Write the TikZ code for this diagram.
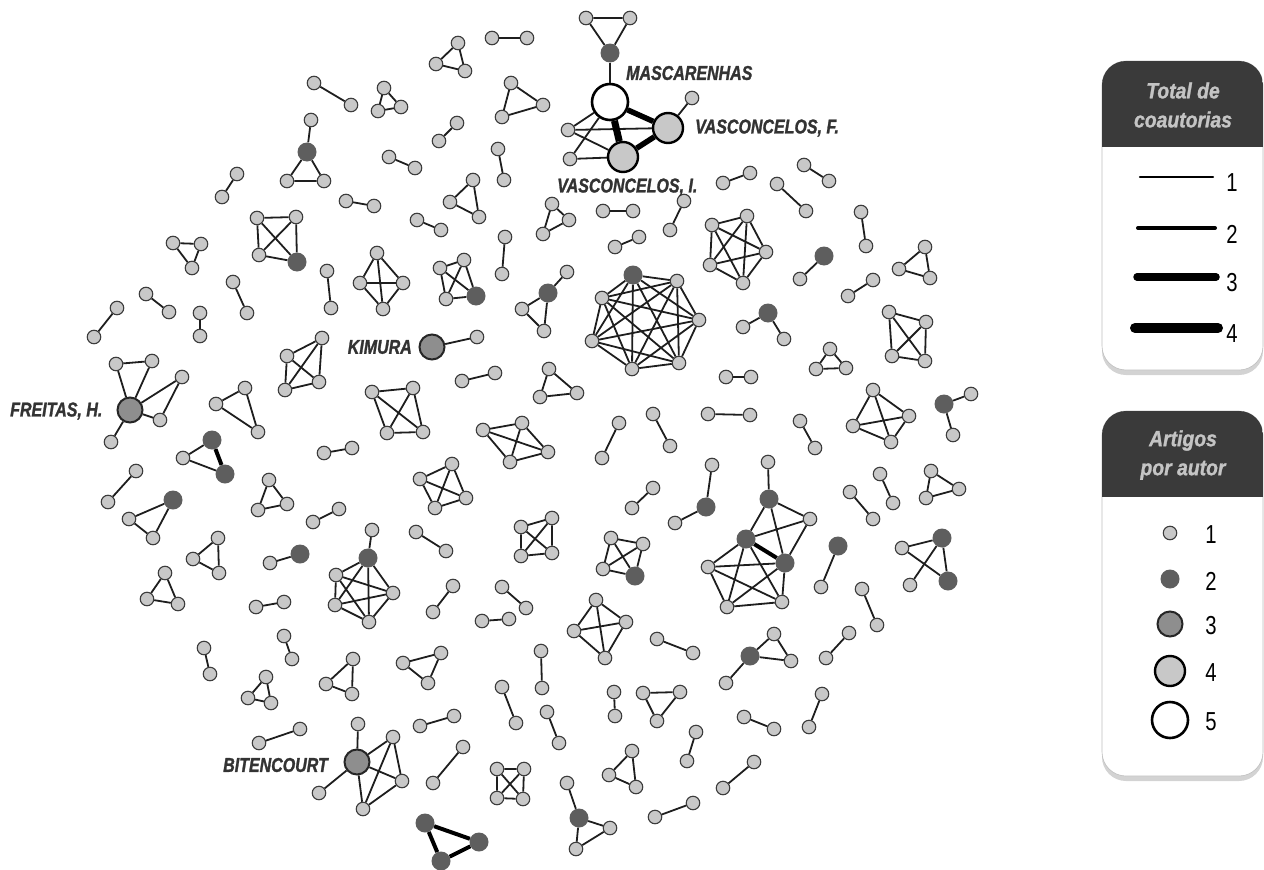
\documentclass[tikz,border=0pt]{standalone}
\usepackage{fontspec}
\newfontfamily\namefont[FakeStretch=0.8,FakeBold=1.3,UprightFont=* Bold Italic]{Liberation Sans}
\newfontfamily\headfont[FakeStretch=0.88,FakeBold=1.2,UprightFont=* Bold Italic]{Liberation Sans}
\newfontfamily\numfont[FakeStretch=0.78]{Liberation Sans}
\usetikzlibrary{shadows}

\begin{document}
\begin{tikzpicture}[x=1pt,y=-1pt,
    aut1/.style={circle,inner sep=0pt,minimum size=13.5pt,fill=nodeLight,draw=nodeLine,line width=1.1pt},
    aut2/.style={circle,inner sep=0pt,minimum size=19pt,fill=nodeDark,draw=none},
    aut3/.style={circle,inner sep=0pt,minimum size=25pt,fill=nodeMid,draw=black!85,line width=2pt},
    aut4/.style={circle,inner sep=0pt,minimum size=30pt,fill=nodeLight,draw=black,line width=2.4pt},
    aut5/.style={circle,inner sep=0pt,minimum size=36pt,fill=white,draw=black,line width=2.6pt},
    link/.style={draw=edgeColour,line width=1.8pt},
    linkii/.style={draw=black,line width=4pt},
    linkiii/.style={draw=black,line width=5.5pt},
    linkiv/.style={draw=black,line width=7pt},
    namelabel/.style={inner sep=0pt,text=labelColour,font={\namefont\fontsize{20}{24}\selectfont}},
    headtext/.style={align=center,inner sep=0pt,text=headText,font={\headfont\fontsize{22}{29}\selectfont}},
    legnum/.style={inner sep=0pt,font={\numfont\fontsize{26}{28}\selectfont}},
    legbox/.style={rounded corners=24pt,fill=white,draw=black!25,line width=0.6pt,
        drop shadow={shadow xshift=0pt,shadow yshift=-5pt,opacity=0.35}}]
    % Define colours
    \definecolor{nodeLight}{HTML}{C8C8C8}
    \definecolor{nodeLine}{HTML}{3C3C3C}
    \definecolor{nodeDark}{HTML}{5E5E5E}
    \definecolor{nodeMid}{HTML}{8E8E8E}
    \definecolor{edgeColour}{HTML}{1E1E1E}
    \definecolor{labelColour}{HTML}{333333}
    \definecolor{headColour}{HTML}{3A3A3A}
    \definecolor{headText}{HTML}{C4C4C4}

    \useasboundingbox (0,0) rectangle (1264,870);

    % Pairs of authors
    \foreach \xa/\ya/\xb/\yb [count=\i] in {314/83/351/105, 492/38/527/38, 457/123/439/141, 389/157/415/168,
        498/149/504/180, 237/174/222/197, 346/201/374/206, 417/220/441/230, 603/211/633/211, 684/201/670/230,
        639/237/615/247, 505/237/502/274, 723/183/750/173, 804/165/829/181, 777/184/806/211, 861/212/866/246,
        873/280/848/296, 327/271/331/308, 233/282/247/313, 117/308/94/337, 146/294/169/312, 200/313/200/336,
        462/381/495/373, 726/377/751/377, 708/414/750/415, 800/421/815/448, 619/423/602/458, 653/414/670/446,
        352/448/324/453, 136/471/108/502, 653/488/632/508, 339/509/313/522, 416/532/446/551, 880/474/893/503,
        850/492/873/519, 256/607/284/602, 453/586/433/612, 502/587/526/608, 482/621/509/619, 657/639/693/653,
        204/648/210/674, 284/636/292/659, 541/651/542/688, 502/687/516/723, 614/692/615/716, 454/716/420/726,
        547/712/559/743, 463/747/433/783, 300/729/259/743, 862/589/877/625, 849/633/826/658, 822/694/809/727,
        744/717/774/729, 696/732/687/761, 754/762/723/788, 655/817/693/803} {
        \node[aut1] (pa\i) at (\xa,\ya) {};
        \node[aut1] (pb\i) at (\xb,\yb) {};
        \draw[link] (pa\i) -- (pb\i);
    }

    % Triangles
    \foreach \xa/\ya/\xb/\yb/\xc/\yc [count=\i] in {458/43/436/64/465/71, 384/88/378/111/401/107,
        511/83/502/117/543/105, 473/180/450/202/479/217, 552/204/569/220/543/234, 173/243/201/244/192/268,
        925/247/899/269/930/278, 830/349/816/369/846/368, 549/369/540/397/577/393, 245/388/216/404/258/432,
        269/480/258/510/287/504, 931/471/959/489/926/498, 218/538/193/559/219/573, 165/573/147/599/178/604,
        441/653/403/663/428/683, 266/677/248/698/271/703, 353/659/326/684/352/694, 643/693/680/692/657/721,
        632/751/609/775/636/787} {
        \node[aut1] (ta\i) at (\xa,\ya) {};
        \node[aut1] (tb\i) at (\xb,\yb) {};
        \node[aut1] (tc\i) at (\xc,\yc) {};
        \draw[link] (ta\i) -- (tb\i) -- (tc\i) -- (ta\i);
    }

    % Groups of four
    \foreach \xa/\ya/\xb/\yb/\xc/\yc/\xd/\yd [count=\i] in {377/253/360/283/403/283/383/309,
        322/338/287/356/319/382/285/390, 372/392/413/388/387/433/423/432, 483/430/522/423/548/452/510/462,
        452/464/420/479/466/498/435/508, 521/527/552/518/521/556/552/553, 889/312/926/322/892/356/925/361,
        873/390/909/416/853/426/891/442, 596/600/626/622/574/631/605/658, 497/769/524/769/497/798/523/799} {
        \node[aut1] (qa\i) at (\xa,\ya) {};
        \node[aut1] (qb\i) at (\xb,\yb) {};
        \node[aut1] (qc\i) at (\xc,\yc) {};
        \node[aut1] (qd\i) at (\xd,\yd) {};
        \draw[link] (qa\i) -- (qb\i) -- (qd\i) -- (qc\i) -- (qa\i) -- (qd\i);
        \draw[link] (qb\i) -- (qc\i);
    }
    % Groups of four with one author of two articles
    \foreach \xa/\ya/\xb/\yb/\xc/\yc/\xd/\yd [count=\i] in {440/268/464/260/446/299/476/296,
        257/218/296/217/259/255/297/262, 611/538/643/544/603/569/635/576} {
        \node[aut1] (ra\i) at (\xa,\ya) {};
        \node[aut1] (rb\i) at (\xb,\yb) {};
        \node[aut1] (rc\i) at (\xc,\yc) {};
        \node[aut2] (rd\i) at (\xd,\yd) {};
        \draw[link] (ra\i) -- (rb\i) -- (rd\i) -- (rc\i) -- (ra\i) -- (rd\i);
        \draw[link] (rb\i) -- (rc\i);
    }

    % Group of five
    \foreach \x/\y [count=\i] in {712/225, 747/216, 766/252, 743/283, 710/265}
        \node[aut1] (fv\i) at (\x,\y) {};
    \foreach \a in {1,...,5}
        \foreach \b in {1,...,5}
            {\ifnum\a<\b \draw[link] (fv\a) -- (fv\b); \fi}

    % Group of seven
    \node[aut2] (sv1) at (633,275) {};
    \foreach \x/\y [count=\i from 2] in {677/281, 699/320, 679/363, 632/369, 592/341, 602/298}
        \node[aut1] (sv\i) at (\x,\y) {};
    \foreach \a in {1,...,7}
        \foreach \b in {1,...,7}
            {\ifnum\a<\b \draw[link] (sv\a) -- (sv\b); \fi}

    % Group of six
    \node[aut1] (sx0) at (372,530) {};
    \node[aut2] (sx1) at (368,558) {};
    \foreach \x/\y [count=\i from 2] in {336/575, 393/593, 335/605, 369/622}
        \node[aut1] (sx\i) at (\x,\y) {};
    \draw[link] (sx0) -- (sx1);
    \foreach \a in {1,...,5}
        \foreach \b in {1,...,5}
            {\ifnum\a<\b \draw[link] (sx\a) -- (sx\b); \fi}

    % Mascarenhas and Vasconcelos
    \node[aut1] (mt1) at (586,18) {};
    \node[aut1] (mt2) at (630,18) {};
    \node[aut2] (mt3) at (610,53) {};
    \node[aut5] (masc) at (610,102) {};
    \node[aut4] (vascF) at (668,128) {};
    \node[aut4] (vascI) at (623,157) {};
    \node[aut1] (ms1) at (568,130) {};
    \node[aut1] (ms2) at (570,159) {};
    \node[aut1] (ms3) at (692,98) {};
    \draw[link] (mt1) -- (mt2) -- (mt3) -- (mt1);
    \draw[link] (mt3) -- (masc);
    \draw[link] (ms1) -- (masc);
    \draw[link] (ms1) -- (vascF);
    \draw[link] (ms1) -- (vascI);
    \draw[link] (ms2) -- (masc);
    \draw[link] (ms2) -- (vascI);
    \draw[link] (vascF) -- (ms3);
    \draw[linkiii] (masc) -- (vascF);
    \draw[linkiv] (masc) -- (vascI);
    \draw[linkiii] (vascF) -- (vascI);

    % Kimura
    \node[aut3] (kim) at (432,347) {};
    \node[aut1] (kim1) at (477,337) {};
    \draw[link] (kim) -- (kim1);

    % Freitas
    \node[aut3] (frei) at (130,410) {};
    \node[aut1] (fr1) at (116,364) {};
    \node[aut1] (fr2) at (152,361) {};
    \node[aut1] (fr3) at (182,377) {};
    \node[aut1] (fr4) at (160,420) {};
    \node[aut1] (fr5) at (111,442) {};
    \draw[link] (fr1) -- (frei) -- (fr2) -- (fr1);
    \draw[link] (fr3) -- (frei) -- (fr4) -- (fr3);
    \draw[link] (frei) -- (fr5);

    % Bitencourt
    \node[aut3] (bit) at (357,762) {};
    \node[aut1] (bt1) at (358,724) {};
    \node[aut1] (bt2) at (393,737) {};
    \node[aut1] (bt3) at (402,781) {};
    \node[aut1] (bt4) at (363,809) {};
    \node[aut1] (bt5) at (319,793) {};
    \draw[link] (bit) -- (bt1);
    \draw[link] (bit) -- (bt5);
    \draw[link] (bit) -- (bt2) -- (bt3) -- (bit) -- (bt4) -- (bt2);
    \draw[link] (bt3) -- (bt4);

    % Other groups with authors of two articles
    \node[aut1] (da1) at (311,120) {};
    \node[aut2] (da2) at (307,152) {};
    \node[aut1] (da3) at (287,181) {};
    \node[aut1] (da4) at (324,181) {};
    \draw[link] (da1) -- (da2) -- (da3) -- (da4) -- (da2);

    \node[aut1] (db1) at (567,272) {};
    \node[aut2] (db2) at (548,293) {};
    \node[aut1] (db3) at (522,309) {};
    \node[aut1] (db4) at (544,331) {};
    \draw[link] (db1) -- (db2) -- (db3) -- (db4) -- (db2);

    \node[aut2] (dc1) at (824,256) {};
    \node[aut1] (dc2) at (800,279) {};
    \draw[link] (dc1) -- (dc2);

    \node[aut1] (dd1) at (743,327) {};
    \node[aut2] (dd2) at (768,313) {};
    \node[aut1] (dd3) at (784,339) {};
    \draw[link] (dd1) -- (dd2) -- (dd3);

    \node[aut2] (de1) at (944,404) {};
    \node[aut1] (de2) at (971,394) {};
    \node[aut1] (de3) at (953,435) {};
    \draw[link] (de2) -- (de1) -- (de3);

    \node[aut1] (df1) at (712,465) {};
    \node[aut2] (df2) at (706,507) {};
    \node[aut1] (df3) at (675,523) {};
    \draw[link] (df1) -- (df2) -- (df3);

    \node[aut2] (dg1) at (838,546) {};
    \node[aut1] (dg2) at (821,587) {};
    \draw[link] (dg1) -- (dg2);

    \node[aut1] (dh1) at (902,548) {};
    \node[aut2] (dh2) at (942,538) {};
    \node[aut2] (dh3) at (948,581) {};
    \node[aut1] (dh4) at (910,585) {};
    \draw[link] (dh1) -- (dh2) -- (dh3) -- (dh1);
    \draw[link] (dh2) -- (dh4);

    \node[aut2] (di1) at (300,554) {};
    \node[aut1] (di2) at (270,563) {};
    \draw[link] (di1) -- (di2);

    \node[aut2] (dj1) at (173,500) {};
    \node[aut1] (dj2) at (129,519) {};
    \node[aut1] (dj3) at (153,538) {};
    \draw[link] (dj1) -- (dj2) -- (dj3) -- (dj1);

    \node[aut2] (dk1) at (212,440) {};
    \node[aut2] (dk2) at (225,474) {};
    \node[aut1] (dk3) at (183,458) {};
    \draw[link] (dk2) -- (dk3) -- (dk1);
    \draw[linkii] (dk1) -- (dk2);

    \node[aut1] (dl1) at (774,634) {};
    \node[aut2] (dl2) at (750,656) {};
    \node[aut1] (dl3) at (791,661) {};
    \node[aut1] (dl4) at (726,683) {};
    \draw[link] (dl1) -- (dl2) -- (dl3) -- (dl1);
    \draw[link] (dl2) -- (dl4);

    \node[aut1] (dm1) at (567,783) {};
    \node[aut2] (dm2) at (579,818) {};
    \node[aut1] (dm3) at (610,828) {};
    \node[aut1] (dm4) at (576,849) {};
    \draw[link] (dm1) -- (dm2) -- (dm3) -- (dm4) -- (dm2);

    \node[aut2] (dn1) at (425,823) {};
    \node[aut2] (dn2) at (479,842) {};
    \node[aut2] (dn3) at (441,861) {};
    \draw[linkii] (dn1) -- (dn2) -- (dn3) -- (dn1);

    % Large group on the right
    \node[aut1] (g1) at (768,462) {};
    \node[aut2] (g2) at (769,499) {};
    \node[aut1] (g3) at (810,519) {};
    \node[aut2] (g4) at (746,539) {};
    \node[aut2] (g5) at (785,563) {};
    \node[aut1] (g6) at (708,567) {};
    \node[aut1] (g7) at (727,607) {};
    \node[aut1] (g8) at (782,602) {};
    \draw[link] (g1) -- (g2) -- (g3) -- (g4) -- (g2) -- (g5) -- (g3);
    \draw[linkii] (g4) -- (g5);
    \foreach \a/\b in {g4/g6, g4/g7, g4/g8, g5/g6, g5/g7, g5/g8, g6/g7, g6/g8, g7/g8}
        \draw[link] (\a) -- (\b);

    % Author names
    \node[namelabel,anchor=west] (lblMasc) at (626,73) {MASCARENHAS};
    \node[namelabel,anchor=west] (lblVascF) at (695,128) {VASCONCELOS, F.};
    \node[namelabel,anchor=west] (lblVascI) at (557,187) {VASCONCELOS, I.};
    \node[namelabel,anchor=east] (lblKim) at (412,347) {KIMURA};
    \node[namelabel,anchor=west] (lblFrei) at (10,411) {FREITAS, H.};
    \node[namelabel,anchor=west] (lblBit) at (223,765) {BITENCOURT};

    % Legend: co-authorships
    \draw[legbox] (1102,61) rectangle (1263,370);
    \begin{scope}
        \clip[rounded corners=24pt] (1102,61) rectangle (1263,370);
        \fill[headColour] (1102,61) rectangle (1263,147);
    \end{scope}
    \node[headtext] (headCoaut) at (1183,105) {Total de\\coautorias};
    \foreach \w/\y/\xl/\xr [count=\i] in {2.2/177/1140/1213, 4/228/1138/1215, 7.5/277/1137/1216, 10/328/1135/1218} {
        \coordinate (wl\i) at (\xl,\y);
        \coordinate (wr\i) at (\xr,\y);
        \draw[line width=\w pt,line cap=round] (wl\i) -- (wr\i);
        \node[legnum] (wn\i) at (1232,\y+6) {\i};
    }

    % Legend: articles per author
    \draw[legbox] (1102,411) rectangle (1263,776);
    \begin{scope}
        \clip[rounded corners=24pt] (1102,411) rectangle (1263,776);
        \fill[headColour] (1102,411) rectangle (1263,497);
    \end{scope}
    \node[headtext] (headArt) at (1183,455) {Artigos\\por autor};
    \foreach \s/\y [count=\i] in {aut1/533, aut2/579, aut3/624, aut4/671, aut5/720} {
        \node[\s] (an\i) at (1170,\y) {};
        \node[legnum] (anl\i) at (1211,\y+2) {\i};
    }

\end{tikzpicture}
\end{document}
